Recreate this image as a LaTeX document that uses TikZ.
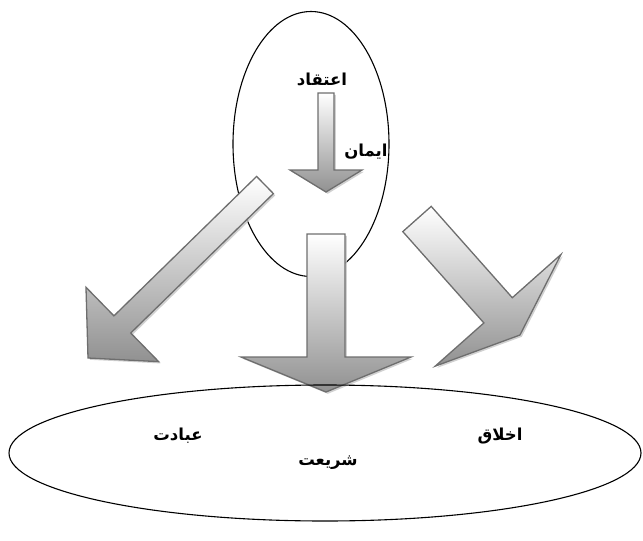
\documentclass[tikz,border=0pt]{standalone}
\usepackage{fontspec}
\newfontfamily\arabicfont[Script=Arabic, BoldFont={DejaVu Sans Bold}]{DejaVu Sans}
\TeXXeTstate=1
\usepackage{tikz}
\usetikzlibrary{shapes.geometric, calc, shadows}
\definecolor{arrowEdge}{RGB}{110,110,110}
\definecolor{arrowDark}{RGB}{145,145,145}

% block arrow: start, tip, shaft half width, head half width, head length
\newcommand{\blockarrow}[5]{%
  \coordinate (ab) at ($(#2)!#5!(#1)$);
  \path[blockarr] ($(#1)!#3!90:(#2)$) -- ($(ab)!#3!90:(#2)$) -- ($(ab)!#4!90:(#2)$)
    -- (#2) -- ($(ab)!#4!-90:(#2)$) -- ($(ab)!#3!-90:(#2)$) -- ($(#1)!#3!-90:(#2)$) -- cycle;
}

\begin{document}
\begin{tikzpicture}[
    x=1pt, y=-1pt,
    oval/.style={ellipse, draw, line width=1.1pt, inner sep=0pt},
    lbl/.style={font=\arabicfont\bfseries\fontsize{16.5}{18}\selectfont, inner sep=1pt},
    blockarr/.style={draw=arrowEdge, line width=1.3pt, line join=miter,
                     top color=white, bottom color=arrowDark,
                     drop shadow={shadow xshift=1.8pt, shadow yshift=-1.8pt,
                                  fill=gray!45, opacity=0.8}},
  ]
    \useasboundingbox (0,0) rectangle (643,541);

    % top oval
    \node[oval, minimum width=156pt, minimum height=265pt] (aqida) at (311,144) {};

    % arrow ends
    \coordinate (inS) at (326,93);   \coordinate (inT) at (326,192);
    \coordinate (lfS) at (265,185);  \coordinate (lfT) at (88,358);
    \coordinate (mdS) at (326,234);  \coordinate (mdT) at (326,392);
    \coordinate (rtS) at (417,219);  \coordinate (rtT) at (520,335);

    % arrows
    \blockarrow{inS}{inT}{8pt}{36pt}{22pt}
    \blockarrow{lfS}{lfT}{12pt}{52pt}{48pt}
    \blockarrow{mdS}{mdT}{19pt}{85pt}{35pt}
    \blockarrow{rtS}{rtT}{19pt}{84pt}{33pt}

    % bottom oval
    \node[oval, minimum width=632pt, minimum height=136pt] (sharia) at (325,453) {};

    % labels
    \node[lbl] (eteqad) at (322,79)  {\beginR اعتقاد\endR};
    \node[lbl] (iman)   at (366,152) {\beginR ایمان\endR};
    \node[lbl] (ebadat) at (178,436) {\beginR عبادت\endR};
    \node[lbl] (akhlaq) at (500,436) {\beginR اخلاق\endR};
    \node[lbl] (shariat) at (328,463) {\beginR شریعت\endR};
\end{tikzpicture}
\end{document}
